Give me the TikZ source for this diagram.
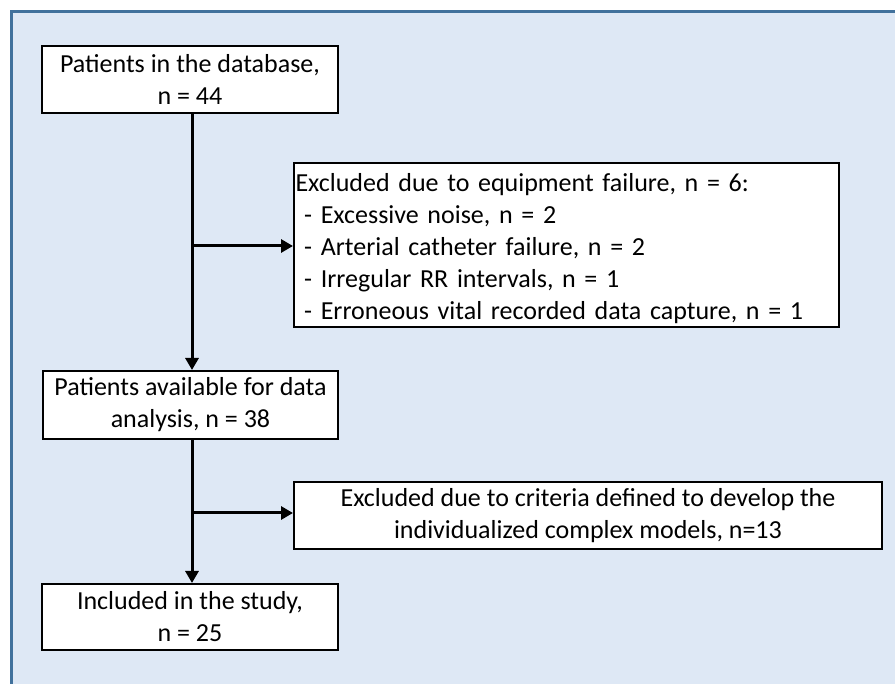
\documentclass[tikz,border=0pt]{standalone}
\usepackage{fontspec}
\setmainfont{Carlito}
\usetikzlibrary{arrows.meta}
\definecolor{bgblue}{RGB}{222,232,245}
\definecolor{frameblue}{RGB}{65,113,156}
\begin{document}
\begin{tikzpicture}[x=1pt,y=-1pt,
  box/.style={draw=black, line width=2pt, fill=white, inner sep=0pt, font=\fontsize{26}{32}\selectfont},
  conn/.style={line width=3pt, -{Triangle[length=12pt,width=13pt]}}]
\useasboundingbox (0,0) rectangle (895,684);
\fill[bgblue] (11,11) rectangle (895,684);
\draw[frameblue, line width=2.6pt] (895,11.3) -- (11.3,11.3) -- (11.3,684);
\node[box, minimum width=296pt, minimum height=67pt, align=center] (box1) at (190,79.5)
  {Patients in the database,\\ n = 44};
\node[box, minimum width=295pt, minimum height=68pt, align=center] (box2) at (190.5,405)
  {Patients available for data\\ analysis, n = 38};
\node[box, minimum width=296pt, minimum height=66pt, align=center] (box3) at (190,617)
  {Included in the study,\\ n = 25};
\node[box, minimum width=545pt, minimum height=164pt, text width=542pt, align=left] (ex1) at (566.5,245)
  {\rule{0pt}{26pt}Excluded due to equipment failure, n = 6:\\
   \ - Excessive noise, n = 2\\
   \ - Arterial catheter failure, n = 2\\
   \ - Irregular RR intervals, n = 1\\
   \ - Erroneous vital recorded data capture, n = 1};
\node[box, minimum width=588pt, minimum height=67pt, align=center] (ex2) at (588,515.5)
  {Excluded due to criteria defined to develop the\\ individualized complex models, n=13};
\coordinate (v) at (192,0);
\coordinate (b1) at (192,246);
\coordinate (b2) at (192,513);
\draw[conn] (box1.south -| v) -- (box2.north -| v);
\draw[conn] (box2.south -| v) -- (box3.north -| v);
\draw[conn] (b1) -- (ex1.west |- b1);
\draw[conn] (b2) -- (ex2.west |- b2);
\end{tikzpicture}
\end{document}
